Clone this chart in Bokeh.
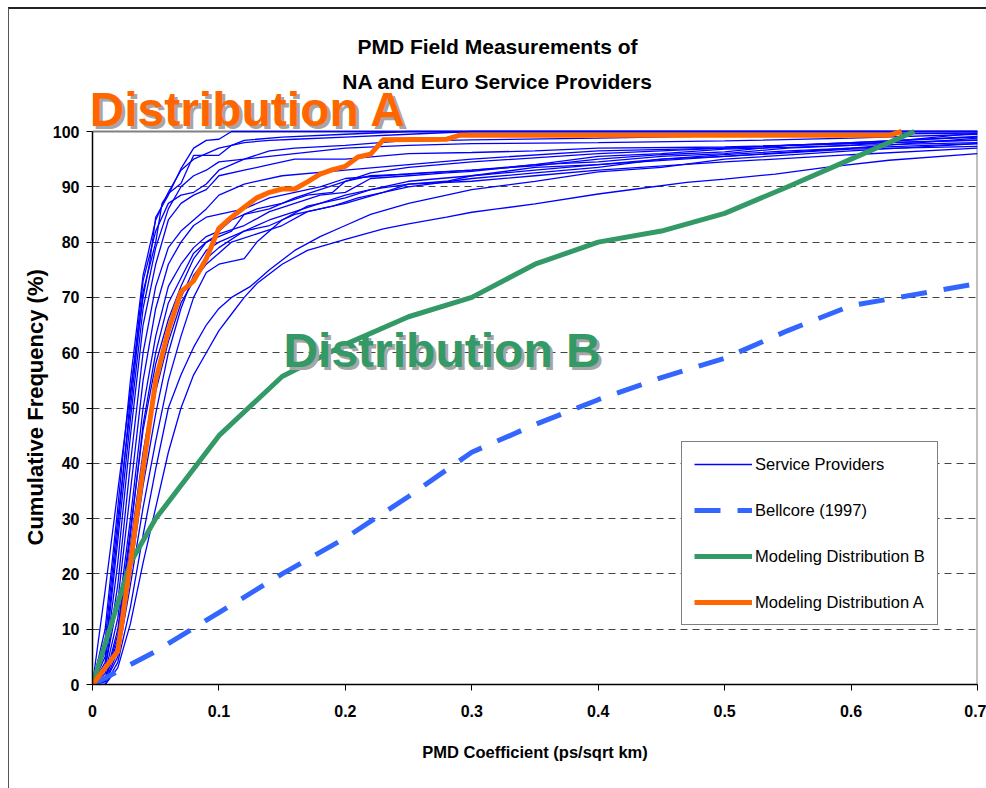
from bokeh.plotting import figure
from bokeh.models import Range1d, FixedTicker, Legend, LegendItem, Label, Title, CustomJSTickFormatter
from bokeh.embed import file_html
from bokeh.resources import INLINE

# ---------------- data ----------------
title_lines = ["PMD Field Measurements of", "NA and Euro Service Providers"]
x_label = "PMD Coefficient (ps/sqrt km)"
y_label = "Cumulative Frequency (%)"
x_ticks = [0, 0.1, 0.2, 0.3, 0.4, 0.5, 0.6, 0.7]
y_ticks = [0, 10, 20, 30, 40, 50, 60, 70, 80, 90, 100]

# Service provider curves (x = PMD coefficient, y = cumulative %)
sp_x = [
    [0, 0.01, 0.02, 0.03, 0.04, 0.045, 0.05, 0.06, 0.07, 0.08, 0.09, 0.1, 0.11, 0.7],
    [0, 0.01, 0.02, 0.03, 0.04, 0.05, 0.055, 0.06, 0.07, 0.08, 0.1, 0.11, 0.12, 0.15, 0.2, 0.25, 0.7],
    [0, 0.01, 0.02, 0.03, 0.04, 0.05, 0.06, 0.07, 0.08, 0.09, 0.1, 0.12, 0.14, 0.16, 0.2, 0.24, 0.3, 0.4, 0.5, 0.6, 0.7],
    [0, 0.01, 0.02, 0.03, 0.04, 0.05, 0.06, 0.07, 0.08, 0.09, 0.1, 0.12, 0.14, 0.16, 0.2, 0.25, 0.3, 0.35, 0.4, 0.5, 0.6, 0.7],
    [0, 0.01, 0.02, 0.03, 0.04, 0.05, 0.06, 0.07, 0.08, 0.09, 0.1, 0.12, 0.15, 0.2, 0.25, 0.3, 0.4, 0.5, 0.6, 0.7],
    [0, 0.01, 0.02, 0.03, 0.04, 0.05, 0.06, 0.07, 0.08, 0.09, 0.1, 0.11, 0.12, 0.14, 0.16, 0.18, 0.2, 0.22, 0.25, 0.3, 0.35, 0.4, 0.45, 0.5, 0.6, 0.7],
    [0, 0.01, 0.02, 0.03, 0.04, 0.05, 0.06, 0.07, 0.08, 0.09, 0.1, 0.12, 0.14, 0.16, 0.18, 0.2, 0.22, 0.25, 0.28, 0.3, 0.35, 0.4, 0.45, 0.5, 0.55, 0.6, 0.7],
    [0, 0.01, 0.02, 0.03, 0.04, 0.05, 0.06, 0.07, 0.08, 0.09, 0.1, 0.12, 0.14, 0.16, 0.18, 0.2, 0.22, 0.25, 0.3, 0.35, 0.4, 0.5, 0.6, 0.7],
    [0, 0.01, 0.02, 0.03, 0.04, 0.05, 0.06, 0.07, 0.08, 0.09, 0.1, 0.11, 0.12, 0.13, 0.15, 0.17, 0.19, 0.2, 0.22, 0.25, 0.3, 0.4, 0.5, 0.6, 0.7],
    [0, 0.01, 0.02, 0.03, 0.04, 0.05, 0.06, 0.07, 0.08, 0.09, 0.1, 0.12, 0.14, 0.16, 0.18, 0.2, 0.23, 0.25, 0.28, 0.3, 0.35, 0.4, 0.45, 0.5, 0.6, 0.7],
    [0, 0.01, 0.02, 0.03, 0.04, 0.05, 0.06, 0.07, 0.08, 0.09, 0.1, 0.12, 0.13, 0.15, 0.17, 0.2, 0.22, 0.25, 0.3, 0.35, 0.4, 0.5, 0.6, 0.7],
    [0, 0.01, 0.02, 0.03, 0.04, 0.05, 0.06, 0.07, 0.08, 0.09, 0.1, 0.11, 0.125, 0.14, 0.16, 0.18, 0.2, 0.22, 0.25, 0.3, 0.35, 0.4, 0.45, 0.5, 0.6, 0.7],
    [0, 0.01, 0.02, 0.03, 0.04, 0.05, 0.06, 0.07, 0.08, 0.09, 0.1, 0.11, 0.12, 0.13, 0.15, 0.17, 0.2, 0.23, 0.25, 0.28, 0.3, 0.32, 0.35, 0.4, 0.43, 0.47, 0.5, 0.54, 0.58, 0.63, 0.7],
    [0, 0.01, 0.02, 0.03, 0.04, 0.05, 0.06, 0.07, 0.08, 0.09, 0.1, 0.12, 0.14, 0.16, 0.18, 0.2, 0.23, 0.26, 0.3, 0.35, 0.4, 0.45, 0.5, 0.55, 0.6, 0.7],
    [0, 0.01, 0.02, 0.03, 0.04, 0.05, 0.06, 0.07, 0.08, 0.09, 0.1, 0.12, 0.14, 0.16, 0.18, 0.2, 0.25, 0.3, 0.4, 0.5, 0.6, 0.7],
    [0, 0.01, 0.02, 0.03, 0.04, 0.05, 0.06, 0.07, 0.08, 0.09, 0.1, 0.12, 0.14, 0.16, 0.2, 0.25, 0.3, 0.7],
    [0, 0.01, 0.02, 0.03, 0.04, 0.05, 0.06, 0.07, 0.08, 0.09, 0.1, 0.11, 0.13, 0.15, 0.17, 0.19, 0.21, 0.23, 0.25, 0.3, 0.35, 0.4, 0.45, 0.5, 0.55, 0.6, 0.7],
]
sp_y = [
    [0, 17, 35, 53, 70, 76, 84.5, 88.5, 93.3, 97, 98.4, 98.6, 100, 100],
    [0, 8, 30, 50, 71, 80, 87, 88.8, 90.6, 95.7, 95.7, 97.5, 98.4, 99, 99.5, 100, 100],
    [0, 5, 26, 48, 68, 79, 86, 90, 92, 93, 94.5, 95, 96.5, 97, 97.5, 98.2, 98.5, 98.8, 99.2, 99.5, 99.7],
    [0, 4, 22, 45, 65, 76, 84, 87, 88.5, 89.5, 92, 93, 94, 95, 95, 96, 96.2, 96.5, 97, 97.2, 97.8, 98.4],
    [0, 3, 18, 40, 60, 72, 79, 82, 84, 86, 88.5, 90.5, 92, 93, 94, 95, 96.5, 97, 98, 99.1],
    [0, 2, 12, 30, 50, 63, 72, 76, 79, 81, 82, 84, 85, 86, 88, 89.5, 91, 92, 92.3, 93, 94, 95.5, 96, 96.8, 97.5, 98],
    [0, 1, 10, 28, 46, 58, 66, 72, 77, 80, 81.5, 83, 85.5, 87, 88.5, 89, 91.5, 92, 92.5, 92.8, 94, 94.5, 95.5, 96, 97, 97.5, 99.7],
    [0, 1, 8, 25, 42, 55, 64, 70, 75, 78.5, 80, 82, 84, 85.5, 87, 88.5, 89.5, 91, 92, 93.5, 94, 95.5, 97, 98.8],
    [0, 1, 9, 27, 47, 60, 69, 73.5, 78, 80, 81, 82, 85, 86, 87, 88.5, 89, 91, 92.5, 93.5, 94.5, 96, 97, 98, 99],
    [0, 0.5, 6, 20, 36, 49, 60, 68, 74, 77, 79, 82, 83, 85, 86, 87, 89, 90.5, 91, 92, 93, 94, 95, 95.5, 96.8, 97.3],
    [0, 0.5, 5, 18, 32, 44, 55, 63, 70, 74.5, 76, 77, 80, 84, 86.5, 88, 89.5, 90.5, 91, 92, 93, 94.5, 95.8, 97],
    [0, 0, 4, 14, 27, 39, 50, 56, 61, 65, 68, 70, 72, 75, 78.5, 81, 83, 85, 87, 89.5, 91, 92.7, 93.5, 95, 96.5, 97.8],
    [0, 0, 3, 11, 22, 32, 42, 50, 56, 60, 64, 67, 70, 72.5, 76, 78.5, 80.5, 82.4, 83.3, 84.5, 85.4, 86, 86.9, 88.7, 89.6, 90.8, 91.4, 92.3, 93.5, 94.8, 96],
    [0, 3, 15, 35, 55, 68, 76, 80, 83, 84.5, 85, 86, 88, 89, 90, 91.5, 92, 92.5, 93, 93.8, 95, 95.8, 96.3, 97.5, 97.8, 98.5],
    [0, 6, 28, 52, 73, 82, 87, 88.5, 89, 90.5, 93, 95, 95.5, 96, 96.5, 97, 97.5, 97.8, 98, 98.3, 98.8, 99.5],
    [0, 10, 32, 55, 74, 84, 89, 93, 95, 96, 97, 98, 98.4, 98.6, 99, 99.5, 100, 100],
    [0, 1, 7, 22, 40, 53, 62, 69, 73, 76, 78, 80, 81.5, 83, 85.5, 86.5, 88, 89, 90, 91.5, 92.5, 93.5, 95, 95.8, 96.5, 97, 97.8],
]

bellcore_x = [0, 0.05, 0.1, 0.15, 0.2, 0.25, 0.3, 0.35, 0.4, 0.45, 0.5, 0.55, 0.6, 0.65, 0.7]
bellcore_y = [0, 6, 13, 20, 26.5, 34, 42, 47, 51.5, 55.5, 59, 64, 68.5, 70.5, 72.5]

dist_b_x = [0, 0.03, 0.05, 0.1, 0.15, 0.2, 0.25, 0.3, 0.35, 0.4, 0.45, 0.5, 0.55, 0.6, 0.65]
dist_b_y = [0, 22, 30, 45, 55.7, 61.5, 66.5, 70, 76, 80, 82, 85.2, 90, 95, 100]

dist_a_x = [0, 0.01, 0.02, 0.03, 0.04, 0.05, 0.06, 0.07, 0.08, 0.09, 0.1, 0.11, 0.12, 0.13, 0.14,
            0.15, 0.16, 0.17, 0.18, 0.19, 0.2, 0.21, 0.22, 0.23, 0.28, 0.29, 0.63, 0.64]
dist_a_y = [0, 3, 6, 22, 39, 55, 64, 71, 73, 77, 82.5, 84.5, 86.3, 88, 89,
            89.6, 89.6, 90.9, 92.3, 93.1, 93.7, 95.4, 95.9, 98.5, 98.6, 99.3, 99.3, 100]

# ---------------- styling ----------------
FONT = "Liberation Sans"
BLUE = "#0000FF"
BELL = "#3366FF"
GREEN = "#339966"
ORANGE = "#FF6600"

PX_PER_UNIT = 553 / 100.0
Y_TOP = 675 / PX_PER_UNIT   # frame extends to the top of the figure

p = figure(
    frame_width=885, frame_height=675,
    min_border_left=83, min_border_right=9, min_border_top=0, min_border_bottom=104,
    x_range=Range1d(0, 0.7), y_range=Range1d(0, Y_TOP),
    output_backend="svg", toolbar_location=None,
    background_fill_color="white", border_fill_color="white",
)
p.title.visible = False
p.styles = {"margin-left": "8px", "margin-top": "7px",
            "border-left": "1px solid #555555", "border-top": "2px solid #222222"}

p.outline_line_color = None

p.xgrid.visible = False
p.ygrid.ticker = FixedTicker(ticks=y_ticks[1:-1])
p.ygrid.grid_line_color = "#444444"
p.ygrid.grid_line_dash = "7 5"
p.ygrid.grid_line_width = 1

p.xaxis.ticker = FixedTicker(ticks=x_ticks)
p.xaxis.formatter = CustomJSTickFormatter(code="return tick.toFixed(1).replace(/\\.0$/, '');")
p.yaxis.ticker = FixedTicker(ticks=y_ticks)
p.yaxis.bounds = (0, 100)

for ax in (p.xaxis[0], p.yaxis[0]):
    ax.axis_line_color = "black"
    ax.axis_line_width = 1.5
    ax.major_tick_line_color = "black"
    ax.major_tick_out = 6
    ax.major_tick_in = 0
    ax.minor_tick_out = 0
    ax.minor_tick_in = 0
    ax.major_label_text_font = FONT
    ax.major_label_text_font_style = "bold"
    ax.major_label_text_font_size = "16px"
    ax.major_label_text_color = "black"
    ax.axis_label_text_color = "black"
    ax.axis_label_text_font = FONT
    ax.axis_label_text_font_style = "bold"

p.xaxis.major_label_standoff = 14
p.xaxis.axis_label = x_label
p.xaxis.axis_label_text_font_size = "16.5px"
p.xaxis.axis_label_standoff = 23

p.yaxis.major_label_standoff = 7

# y-axis title as a side title, starting 139 px above the frame bottom (centred on 0-100)
p.add_layout(Title(text=y_label, align="left", offset=139, standoff=4,
                   text_font=FONT, text_font_style="bold", text_font_size="22px",
                   text_color="black"), "left")

# plot-area border (top and right, grey)
p.line([0, 0.7, 0.7], [100, 100, 0], line_color="#808080", line_width=2)

# ---------------- lines ----------------
sp_renderers = []
for xs, ys in zip(sp_x, sp_y):
    r = p.line(xs, ys, line_color=BLUE, line_width=1.3)
    sp_renderers.append(r)

r_bell = p.line(bellcore_x, bellcore_y, line_color=BELL, line_width=5, line_dash="26 17")
r_b = p.line(dist_b_x, dist_b_y, line_color=GREEN, line_width=5, line_join="round")
r_a = p.line(dist_a_x, dist_a_y, line_color=ORANGE, line_width=5, line_join="round")

legend = Legend(
    items=[
        LegendItem(label="Service Providers", renderers=[sp_renderers[0]]),
        LegendItem(label="Bellcore (1997)", renderers=[r_bell]),
        LegendItem(label="Modeling Distribution B", renderers=[r_b]),
        LegendItem(label="Modeling Distribution A", renderers=[r_a]),
    ],
    location=(589, 59),
    margin=0,
    padding=12,
    spacing=26,
    glyph_width=58,
    glyph_height=20,
    label_height=20,
    label_standoff=3,
    label_text_font=FONT,
    label_text_font_size="16.5px",
    label_text_color="black",
    border_line_color="black",
    border_line_width=1.2,
    background_fill_color="white",
    background_fill_alpha=1,
)
p.add_layout(legend, "center")

# ---------------- texts ----------------
def y_at(px):
    """data y for an absolute page pixel row (frame bottom at 684)"""
    return (684 - px) / PX_PER_UNIT

p.add_layout(Label(x=0.3203, y=y_at(45.5), text=title_lines[0], text_align="center",
                   text_baseline="middle", text_font=FONT, text_font_style="bold",
                   text_font_size="21px", text_color="black"))
p.add_layout(Label(x=0.3203, y=y_at(80.5), text=title_lines[1], text_align="center",
                   text_baseline="middle", text_font=FONT, text_font_style="bold",
                   text_font_size="21px", text_color="black"))

for txt, xx, yy, col in [("Distribution A", 0.0, y_at(109), ORANGE),
                         ("Distribution B", 0.151, y_at(350), GREEN)]:
    xo = -3 if xx == 0.0 else 0
    p.add_layout(Label(x=xx, y=yy, text=txt, x_offset=xo + 3, y_offset=-3, text_align="left",
                       text_baseline="middle", text_font=FONT, text_font_style="bold",
                       text_font_size="48px", text_color="#A6A6A6"))
    p.add_layout(Label(x=xx, y=yy, text=txt, x_offset=xo, text_align="left",
                       text_baseline="middle", text_font=FONT, text_font_style="bold",
                       text_font_size="48px", text_color=col))

open("out.html", "w").write(file_html(p, INLINE))
